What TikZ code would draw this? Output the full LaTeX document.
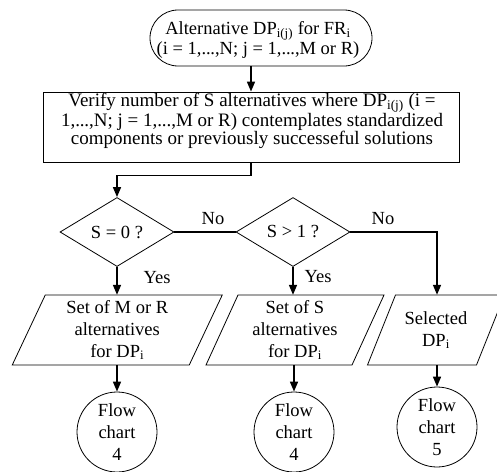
\documentclass[tikz,border=0pt]{standalone}
\usepackage{fontspec}
\setmainfont{Liberation Serif}
\usetikzlibrary{shapes.geometric,arrows.meta,calc}
% parallelogram outline around a text node: #1 node, #2 half side, #3 half slant
\newcommand{\paraframe}[3]{%
  \draw[outline] ($(#1.center)+(-#2+#3,-35)$) -- ($(#1.center)+(#2+#3,-35)$)
    -- ($(#1.center)+(#2-#3,35)$) -- ($(#1.center)+(-#2-#3,35)$) -- cycle;}
% compact ellipsis
\newcommand{\tdots}{.\kern-0.01em.\kern-0.01em.}
\begin{document}
\begin{tikzpicture}[x=1pt,y=-1pt,
  font=\fontsize{18.5}{22}\selectfont,
  outline/.style={line width=0.8pt},
  box/.style={draw,outline,align=center,inner sep=0pt},
  ptext/.style={align=center,inner sep=0pt,minimum height=70pt},
  flow/.style={line width=1.6pt,-{Triangle[length=10pt,width=8pt]}},
  link/.style={line width=1.6pt},
  lbl/.style={inner sep=0pt}]
\clip (0,0) rectangle (497,471);

% start terminator
\node[box,rounded corners=28pt,minimum width=222pt,minimum height=56pt] (start) at (261,38) {};
\node[align=center,inner sep=0pt,font=\fontsize{18.5}{20}\selectfont] (starttext) at (258,40)
  {Alternative DP\textsubscript{i(j)} for FR\textsubscript{i}\\(i = 1,\tdots,N; j = 1,\tdots,M or R)};

% verification step: frame and its text
\node[box,minimum width=416pt,minimum height=70pt] (verify) at (251,127) {};
\node[align=center,inner sep=0pt,font=\fontsize{19}{16.5}\selectfont] (verifytext) at (252,121)
  {Verify number of S alternatives where DP\textsubscript{i(j)} (i =\\
   1,\tdots,N; j = 1,\tdots,M or R) contemplates standardized\\
   components or previously successeful solutions};

% decisions
\node[box,diamond,minimum width=114pt,minimum height=69pt] (d1) at (117,232) {S = 0 ?};
\node[box,diamond,minimum width=114pt,minimum height=69pt] (d2) at (293,232) {S > 1 ?};

% outputs
\node[ptext] (p1) at (117.25,330) {Set of M or R\\alternatives\\for DP\textsubscript{i}};
\node[ptext] (p2) at (295,330) {Set of S\\alternatives\\for DP\textsubscript{i}};
\node[ptext] (p3) at (436,330) {Selected\\DP\textsubscript{i}};
\paraframe{p1}{88.5}{16.5}
\paraframe{p2}{73}{16}
\paraframe{p3}{54.5}{14}

% connectors to other charts
\node[box,circle,minimum size=80pt] (c1) at (117,432) {Flow\\chart\\4};
\node[box,circle,minimum size=80pt] (c2) at (294,432) {Flow\\chart\\4};
\node[box,circle,minimum size=80pt] (c3) at (437,427) {Flow\\chart\\5};

% labels
\node[lbl] (no1) at (213,219) {No};
\node[lbl] (no2) at (383,219) {No};
\node[lbl] (yes1) at (157,278) {Yes};
\node[lbl] (yes2) at (318,277) {Yes};

% connectors
\draw[flow] (start.south -| verify.north) -- (verify.north);
\draw[flow] (verify.south) -- ++(0,13) -| (d1.north);
\draw[link] (d1.east) -- (d2.west);
\draw[flow] (d2.east) -| (c3.north |- p3.north);
\draw[flow] (d1.south) -- (d1.south |- p1.north);
\draw[flow] (d2.south) -- (d2.south |- p2.north);
\draw[flow] (p1.south -| c1.north) -- (c1.north);
\draw[flow] (p2.south -| c2.north) -- (c2.north);
\draw[flow] (p3.south -| c3.north) -- (c3.north);
\end{tikzpicture}
\end{document}
